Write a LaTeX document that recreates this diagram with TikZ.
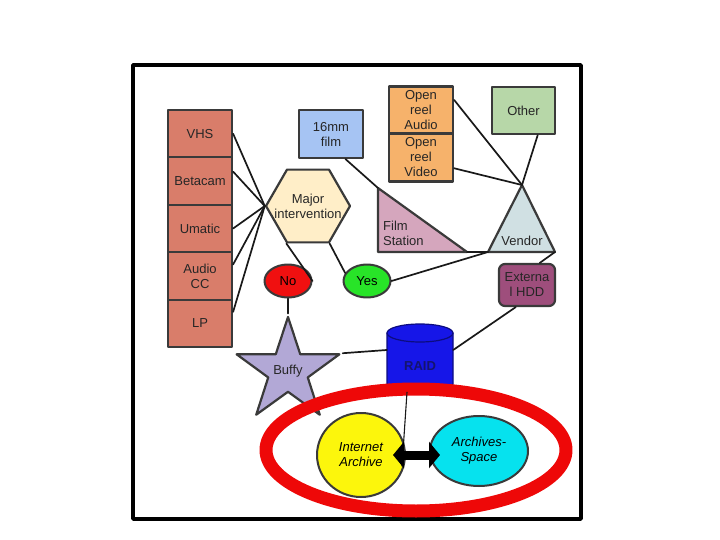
\documentclass[tikz,border=0pt]{standalone}
\usepackage{fontspec}
\setmainfont{Liberation Sans}
\usetikzlibrary{shapes.geometric,arrows.meta,calc}
\definecolor{edgegray}{RGB}{58,58,58}
\definecolor{tapered}{RGB}{217,125,106}
\definecolor{filmblue}{RGB}{166,196,243}
\definecolor{hexcream}{RGB}{255,238,200}
\definecolor{reelorange}{RGB}{246,178,107}
\definecolor{othergreen}{RGB}{183,215,168}
\definecolor{filmpink}{RGB}{213,166,189}
\definecolor{vendorblue}{RGB}{208,224,227}
\definecolor{noredfill}{RGB}{240,16,16}
\definecolor{yesgreen}{RGB}{40,228,40}
\definecolor{hddplum}{RGB}{158,78,124}
\definecolor{raidblue}{RGB}{22,22,232}
\definecolor{raidnavy}{RGB}{20,20,110}
\definecolor{buffylav}{RGB}{178,168,214}
\definecolor{ringred}{RGB}{238,8,8}
\definecolor{iayellow}{RGB}{252,246,12}
\definecolor{ascyan}{RGB}{6,226,238}

\begin{document}
\begin{tikzpicture}[x=1pt,y=-1pt,>=stealth, font=\fontsize{13}{15}\selectfont, line join=round, line cap=round,
	box/.style={draw=edgegray, line width=2.2pt, minimum width=64pt, inner sep=1pt, align=center, text=black!85},
	link/.style={line width=1.7pt, black!90},
	edge/.style={draw=edgegray, line width=2.2pt},
	oval/.style={ellipse, draw=edgegray, line width=2pt, inner sep=0pt, align=center}]
	\useasboundingbox (0,0) rectangle (720,540);
	\fill[white] (0,0) rectangle (720,540);
	\draw[line width=3.5pt] (133,65) rectangle (581,519);
	% formats on the left
	\node[box, fill=tapered, minimum height=47.4pt] (vhs) at (200,133.7) {VHS};
	\node[box, fill=tapered, minimum height=47.4pt] (betacam) at (200,181.1) {Betacam};
	\node[box, fill=tapered, minimum height=47.4pt] (umatic) at (200,228.5) {Umatic};
	\node[box, fill=tapered, minimum height=47.4pt] (audiocc) at (200,275.9) {Audio\\CC};
	\node[box, fill=tapered, minimum height=47.4pt] (lp) at (200,323.3) {LP};
	\node[box, fill=filmblue, minimum height=48pt] (film) at (331,134) {16mm\\film};
	\node[box, fill=reelorange, minimum height=47pt] (audio) at (421,110) {Open\\reel\\Audio};
	\node[box, fill=reelorange, minimum height=48pt] (video) at (421,157.5) {Open\\reel\\Video};
	\node[box, fill=othergreen, minimum width=63pt, minimum height=47pt] (other) at (523.5,110.5) {Other};
	\node[regular polygon, regular polygon sides=6, minimum size=84pt, inner sep=0pt, edge, fill=hexcream] (major) at (308,206) {};
	\node[align=center, inner sep=0pt, text=black!85] (majortext) at (308,206) {Major\\intervention};
	% film station and vendor
	\coordinate (fsA) at (378,188);
	\coordinate (fsB) at (378,252);
	\coordinate (fsC) at (467,252);
	\draw[edge, fill=filmpink] (fsA) -- (fsB) -- (fsC) -- cycle;
	\node[anchor=west, align=left, inner sep=0pt, text=black!85] (fstext) at (383,233) {Film\\Station};
	\coordinate (vtop) at (522,185);
	\coordinate (vleft) at (488,252);
	\coordinate (vright) at (555,252);
	\draw[edge, fill=vendorblue] (vtop) -- (vleft) -- (vright) -- cycle;
	\node[inner sep=0pt, text=black!85] (vendor) at (522,241) {Vendor};
	\node[oval, fill=noredfill, minimum width=47pt, minimum height=33pt] (no) at (288,281) {No};
	\node[oval, fill=yesgreen, minimum width=47pt, minimum height=33pt] (yes) at (367,281) {Yes};
	\node[box, fill=hddplum, rounded corners=6pt, minimum width=56pt, minimum height=42pt] (hdd) at (527,285) {Externa\\l HDD};
	% raid drum
	\fill[raidblue] (387,333) -- (387,384) arc[start angle=180, end angle=360, x radius=33pt, y radius=9pt] -- (453,333) arc[start angle=0, end angle=180, x radius=33pt, y radius=9pt] -- cycle;
	\draw[raidblue!55!black, line width=1.2pt] (387,333) -- (387,384) arc[start angle=180, end angle=360, x radius=33pt, y radius=9pt] -- (453,333);
	\draw[raidblue!55!black, line width=1.2pt] (420,333) ellipse [x radius=33pt, y radius=9pt];
	\node[minimum width=66pt, minimum height=60pt, inner sep=0pt, text=raidnavy, font=\fontsize{13}{15}\selectfont\bfseries] (raid) at (420,366) {RAID};
	\node[star, star points=5, star point ratio=2.6, minimum size=102pt, inner sep=0pt, edge, fill=buffylav, text=black!85] (buffy) at (288,371) {Buffy};
	% connectors
	\draw[link] (vhs.east) -- (major.west);
	\draw[link] (betacam.16) -- (major.west);
	\draw[link] (umatic.east) -- (major.west);
	\draw[link] (audiocc.19) -- (major.west);
	\draw[link] (lp.19) -- (major.west);
	\draw[link] (major.240) -- (no.east);
	\draw[link] (major.300) -- (yes.160);
	\draw[link] (film.-60) -- (fsA);
	\draw[link] (audio.17) -- (vtop);
	\draw[link] (video.-18) -- (vtop);
	\draw[link] (other.-60) -- (vtop);
	\draw[link] (fsC) -- (vleft);
	\draw[link] (yes.east) -- (vleft);
	\draw[link] (vright) -- (hdd.60);
	\draw[link] (hdd.-117) -- ($(raid.east)+(0,-16)$);
	\draw[link] (buffy.outer point 5) -- ($(raid.west)+(0,-16)$);
	\draw[link] (no.south) -- (buffy.outer point 1);
	% access
	\draw[ringred, line width=13pt] (416,450) ellipse [x radius=150pt, y radius=61pt];
	\node[oval, fill=iayellow, minimum width=88pt, minimum height=84pt, font=\fontsize{13}{15}\selectfont\itshape] (ia) at (361,455) {Internet\\Archive};
	\node[oval, fill=ascyan, minimum width=98pt, minimum height=70pt, font=\fontsize{13}{15}\selectfont\itshape] (as) at (479,451) {Archives-\\Space};
	\coordinate (hub) at (402,466);
	\draw[link, line width=1.1pt] ($(raid.south)+(-13,-4)$) -- (hub);
	\draw[line width=9pt, {Triangle[length=11pt,width=26pt]}-{Triangle[length=11pt,width=26pt]}, shorten <=-13pt, shorten >=-11pt] (ia.east) -- (ia.east -| as.west);
\end{tikzpicture}
\end{document}
